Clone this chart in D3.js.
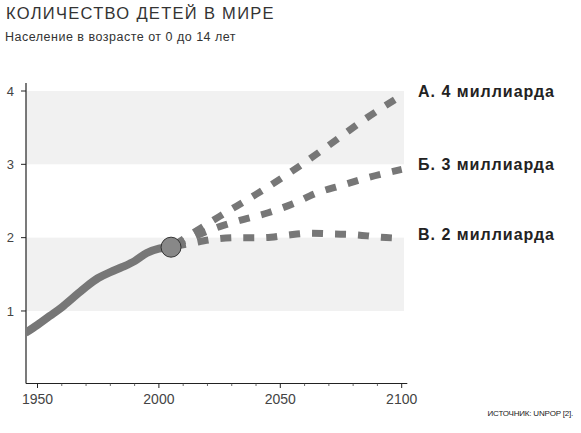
<!DOCTYPE html>
<html>
<head>
<meta charset="utf-8">
<script src="https://cdn.jsdelivr.net/npm/d3@7"></script>
<style>
  body { margin: 0; background: #fff; }
  svg { display: block; font-family: "Liberation Sans", Arial, sans-serif; }
</style>
</head>
<body>
<svg id="chart" width="581" height="433"></svg>
<script>
// historical children population (billions)
const histYears = [1945, 1950, 1955, 1960, 1965, 1970, 1975, 1980, 1985, 1990, 1995, 2000, 2005];
const histValues = [0.70, 0.81, 0.93, 1.05, 1.19, 1.33, 1.45, 1.53, 1.60, 1.68, 1.79, 1.85, 1.87];

// projections
const projA = [[2005, 1.87], [2025, 2.29], [2040, 2.59], [2055, 2.91], [2070, 3.26], [2085, 3.62], [2100, 3.94]];
const projB = [[2005, 1.87], [2015, 2.02], [2025, 2.15], [2035, 2.25], [2045, 2.34], [2055, 2.46], [2065, 2.61], [2075, 2.71], [2085, 2.81], [2100, 2.93]];
const projC = [[2005, 1.87], [2013, 1.92], [2023, 1.98], [2033, 2.00], [2043, 2.00], [2052, 2.03], [2062, 2.06], [2072, 2.05], [2081, 2.04], [2090, 2.01], [2100, 1.99]];

const projLabels = ["А. 4 миллиарда", "Б. 3 миллиарда", "В. 2 миллиарда"];
const labelValues = [4, 3, 2.04];

const yTicks = [1, 2, 3, 4];
const xTicksMajor = [1950, 2000, 2050, 2100];
const xTicksMinor = d3.range(1960, 2100, 10).filter(d => d % 50 !== 0);

const svg = d3.select("#chart");

const xScale = d3.scaleLinear().domain([1950, 2100]).range([37.5, 401.7]);
const yScale = d3.scaleLinear().domain([0, 4]).range([384.3, 91]);
const axisLeft = 26;
const axisBottom = 383.5;

// title
svg.append("text")
    .attr("x", 6)
    .attr("y", 18.5)
    .attr("font-size", "16.5px")
    .attr("letter-spacing", "1.3px")
    .attr("fill", "#333")
    .text("КОЛИЧЕСТВО ДЕТЕЙ В МИРЕ");

svg.append("text")
    .attr("x", 5)
    .attr("y", 40.5)
    .attr("font-size", "12.5px")
    .attr("letter-spacing", "0.5px")
    .attr("fill", "#333")
    .text("Население в возрасте от 0 до 14 лет");

// grey bands
[[1, 2], [3, 4]].forEach(([lo, hi]) => {
    svg.append("rect")
        .attr("x", axisLeft)
        .attr("y", yScale(hi))
        .attr("width", 404 - axisLeft)
        .attr("height", yScale(lo) - yScale(hi))
        .attr("fill", "#f1f1f1");
});

// axes
svg.append("line")
    .attr("x1", axisLeft).attr("x2", axisLeft)
    .attr("y1", 83).attr("y2", axisBottom)
    .attr("stroke", "#222").attr("stroke-width", 1.2);

svg.append("line")
    .attr("x1", axisLeft).attr("x2", 407.3)
    .attr("y1", axisBottom).attr("y2", axisBottom)
    .attr("stroke", "#222").attr("stroke-width", 1.2);

yTicks.forEach(v => {
    svg.append("line")
        .attr("x1", axisLeft - 5).attr("x2", axisLeft)
        .attr("y1", yScale(v)).attr("y2", yScale(v))
        .attr("stroke", "#222").attr("stroke-width", 1);
    svg.append("text")
        .attr("x", 14)
        .attr("y", yScale(v) + 4.7)
        .attr("text-anchor", "end")
        .attr("font-size", "13px")
        .attr("fill", "#444")
        .text(v);
});

xTicksMajor.forEach(v => {
    svg.append("line")
        .attr("x1", xScale(v)).attr("x2", xScale(v))
        .attr("y1", axisBottom).attr("y2", axisBottom + 4.5)
        .attr("stroke", "#222").attr("stroke-width", 1);
    svg.append("text")
        .attr("x", xScale(v))
        .attr("y", 403.5)
        .attr("text-anchor", "middle")
        .attr("font-size", "14px")
        .attr("fill", "#444")
        .text(v);
});

xTicksMinor.forEach(v => {
    svg.append("line")
        .attr("x1", xScale(v)).attr("x2", xScale(v))
        .attr("y1", axisBottom).attr("y2", axisBottom + 2.5)
        .attr("stroke", "#444").attr("stroke-width", 0.8);
});

// clip to plot area
svg.append("clipPath").attr("id", "plot")
    .append("rect")
    .attr("x", axisLeft + 0.6).attr("y", 70)
    .attr("width", 390).attr("height", axisBottom - 70);

const line = d3.line()
    .x(d => xScale(d[0]))
    .y(d => yScale(d[1]))
    .curve(d3.curveMonotoneX);

const hist = histYears.map((y, i) => [y, histValues[i]]);

svg.append("path")
    .datum(hist)
    .attr("clip-path", "url(#plot)")
    .attr("d", line)
    .attr("fill", "none")
    .attr("stroke", "#777")
    .attr("stroke-width", 8)
    .attr("stroke-linejoin", "round");

[projA, projB, projC].forEach(p => {
    svg.append("path")
        .datum(p)
        .attr("d", line)
        .attr("fill", "none")
        .attr("stroke", "#777")
        .attr("stroke-width", 7)
        .attr("stroke-dasharray", "11,12")
        .attr("stroke-dashoffset", -4);
});

svg.append("circle")
    .attr("cx", xScale(2005))
    .attr("cy", yScale(1.87))
    .attr("r", 10)
    .attr("fill", "#888")
    .attr("stroke", "#333")
    .attr("stroke-width", 1);

// projection labels
projLabels.forEach((t, i) => {
    svg.append("text")
        .attr("x", 418)
        .attr("y", yScale(labelValues[i]) + 5.5)
        .attr("font-size", "16px")
        .attr("letter-spacing", "1px")
        .attr("font-weight", "bold")
        .attr("fill", "#222")
        .text(t);
});

// source
svg.append("text")
    .attr("x", 573)
    .attr("y", 415.5)
    .attr("text-anchor", "end")
    .attr("font-size", "8px")
    .attr("letter-spacing", "-0.2px")
    .attr("font-family", "'Liberation Sans Narrow', 'Arial Narrow', sans-serif")
    .attr("fill", "#222")
    .text("ИСТОЧНИК: UNPOP [2].");
</script>
</body>
</html>
